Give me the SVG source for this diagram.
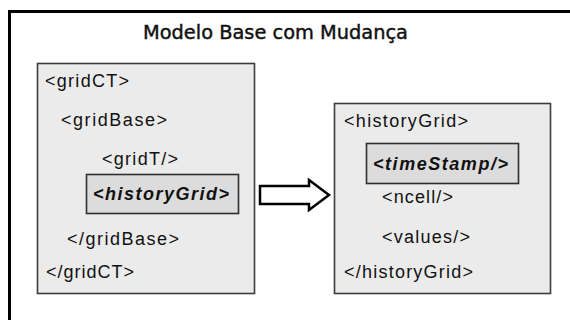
<svg xmlns="http://www.w3.org/2000/svg" width="570" height="320" viewBox="0 0 570 320">
<style>
.box{fill:#ebebeb;stroke:#3c3c3c;stroke-width:1.6}
.hl{fill:#dcdcdc;stroke:#2e2e2e;stroke-width:1.6}
.t{font-family:"Liberation Sans",Arial,sans-serif;font-size:18px;fill:#111}
.b{font-family:"Liberation Sans",Arial,sans-serif;font-size:18px;font-weight:bold;font-style:italic;fill:#111}
.title{font-family:"DejaVu Sans",Verdana,sans-serif;font-size:20px;fill:#111;stroke:#111;stroke-width:0.45}
</style>
<rect x="0" y="0" width="570" height="320" fill="#fff"/>
<rect x="9.5" y="11.5" width="570" height="320" fill="none" stroke="#000" stroke-width="3"/>
<text class="title" x="143" y="39" textLength="265" lengthAdjust="spacingAndGlyphs">Modelo Base com Mudança</text>
<g id="gridCT">
<rect class="box" x="37.5" y="63.5" width="217" height="230"/>
<text class="t" x="45" y="87" textLength="84">&lt;gridCT&gt;</text>
<text class="t" x="61" y="126" textLength="106">&lt;gridBase&gt;</text>
<text class="t" x="102" y="165" textLength="76">&lt;gridT/&gt;</text>
<g id="historyGridRef">
<rect class="hl" x="86.5" y="174.5" width="152" height="39"/>
<text class="b" x="93" y="200" textLength="136">&lt;historyGrid&gt;</text>
</g>
<text class="t" x="67" y="245" textLength="112">&lt;/gridBase&gt;</text>
<text class="t" x="46" y="278" textLength="88">&lt;/gridCT&gt;</text>
</g>
<g id="connectors">
<polygon points="260,186 309,186 309,180 329,195 309,210 309,204 260,204" fill="#fff" stroke="#000" stroke-width="2.5" stroke-linejoin="miter"/>
</g>
<g id="historyGrid">
<rect class="box" x="334.5" y="103.5" width="216" height="190"/>
<text class="t" x="344" y="127" textLength="124">&lt;historyGrid&gt;</text>
<g id="timeStamp">
<rect class="hl" x="366.5" y="143.5" width="152" height="40"/>
<text class="b" x="373" y="170" textLength="135">&lt;timeStamp/&gt;</text>
</g>
<text class="t" x="382" y="203" textLength="71">&lt;ncell/&gt;</text>
<text class="t" x="382" y="243" textLength="88">&lt;values/&gt;</text>
<text class="t" x="344" y="278" textLength="129">&lt;/historyGrid&gt;</text>
</g>
</svg>
